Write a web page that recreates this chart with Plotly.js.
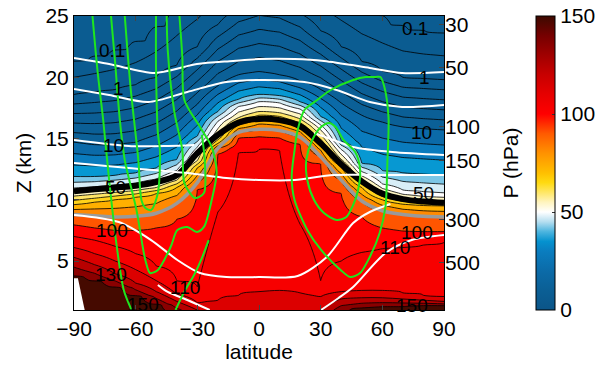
<!DOCTYPE html>
<html><head><meta charset="utf-8">
<script src="https://cdn.plot.ly/plotly-3.0.1.min.js"></script>
<style>body{margin:0;background:#fff}#chart{width:611px;height:367px}</style>
</head><body><div id="chart"></div>
<script>
// ---------- data ----------
const latitudes = [-90,-80,-70,-60,-50,-40,-30,-20,-10,0,10,20,30,40,50,60,70,80,90];
const contourLevels = [0.1,0.5,1,2,4,6,8,10,20,30,40,45,50,55,60,65,70,80,90,100,110,120,130,140,150];
// heights (km) of key contour levels per latitude column
const keyLevels = [0.1,1,10,40,50,60,70,90,100,110,120,130,150];
const h_0p1 = [21.4,21.8,22.3,23.0,24.2,25.8,27.0,28.0,28.5,28.5,28.5,28.0,27.5,26.8,25.8,25.1,24.3,23.9,23.7];
const h_1   = [18.6,18.8,19.0,19.4,20.0,21.0,22.5,24.3,25.6,26.2,26.0,25.2,23.8,22.5,21.3,20.5,20.0,19.9,19.8];
const h_10  = [14.7,14.5,14.5,14.7,15.3,16.3,17.8,19.3,20.2,20.45,20.2,19.7,19.0,17.9,16.9,16.35,15.95,15.8,15.7];
const h_40  = [11.9,11.9,12.0,12.2,12.6,13.3,15.2,17.2,18.2,18.6,18.5,18.0,16.8,14.8,13.0,12.4,12.2,12.1,12.0];
const h_50  = [10.95,11.05,11.2,11.35,11.7,12.4,14.3,16.4,17.6,18.0,17.9,17.4,16.1,14.1,12.3,11.3,10.8,10.65,10.55];
const h_60  = [10.3,10.45,10.6,10.75,11.0,11.6,13.2,15.2,16.7,17.2,17.1,16.6,15.3,13.3,11.6,10.55,10.1,9.9,9.85];
const h_70  = [9.6,9.8,10.0,10.2,10.5,11.0,12.6,14.6,16.1,16.6,16.5,16.0,14.6,12.7,11.0,10.0,9.65,9.55,9.5];
const h_90  = [8.8,8.7,8.6,8.65,8.9,9.7,11.4,14.2,15.5,15.75,15.65,15.1,13.5,11.6,9.9,9.1,8.8,8.65,8.6];
const h_100 = [7.95,7.7,7.5,7.5,7.7,8.4,10.8,13.7,15.0,15.15,15.05,14.5,12.9,10.5,8.6,7.7,7.45,7.4,7.4];
const h_110 = [7.0,6.7,6.2,5.6,4.6,3.4,2.9,9.0,13.8,14.1,14.0,8.0,3.4,5.0,5.7,6.0,6.1,6.3,6.5];
const h_120 = [6.1,5.6,5.0,4.3,3.4,2.3,1.6,1.8,2.2,2.5,2.6,2.4,2.1,2.5,2.6,2.6,2.4,2.2,2.1];
const h_130 = [5.3,4.7,3.95,3.2,2.5,1.7,1.0,0.6,0.6,0.6,0.6,0.6,0.8,1.9,2.0,2.0,1.9,1.8,1.7];
const h_150 = [3.7,3.3,2.8,2.1,1.4,0.6,0.0,-0.5,-0.5,-0.5,-0.5,-0.5,-0.2,0.8,1.1,1.2,1.25,1.3,1.3];
const keyHeights = [h_0p1,h_1,h_10,h_40,h_50,h_60,h_70,h_90,h_100,h_110,h_120,h_130,h_150];

// thick black and gray lines (km) on the latitude columns
const tropopauseZ = [10.7,10.85,11.0,11.15,11.45,12.0,13.8,15.3,16.3,16.6,16.5,16.0,14.6,12.9,11.5,10.5,10.05,9.85,9.75];
const grayLineZ   = [8.8,8.7,8.6,8.65,8.9,9.7,11.4,14.2,15.5,15.75,15.65,15.1,13.5,11.6,9.9,9.1,8.8,8.65,8.6];

// white lines
const white1Lat = [-90,-72.9,-50.6,-30.2,-12.6,0,17.3,31.6,53.9,69.6,90];
const white1Z   = [21.57,21.08,20.35,21.08,21.33,21.49,21.49,21.33,20.76,20.35,20.43];
const white2Lat = [-90,-72.9,-53.9,-34.9,-15.9,0,22.1,37.8,53.9,69.6,90];
const white2Z   = [19.04,18.55,17.98,18.8,19.61,19.78,19.61,18.96,17.98,17.57,17.73];
const white3Lat = [-90,-63.4,-44.4,-31.6,null,26.8,36.3,45.8,64.8,90];
const white3Z   = [14.88,14.39,14.39,14.47,null,15.45,14.88,14.31,13.9,13.65];
const white4Lat = [-90,-63.4,-34.9,-15.9,0,17.3,36.3,60.1,90];
const white4Z   = [13.0,12.59,12.18,11.78,11.61,11.61,12.02,12.02,12.02];
const white5Lat = [-90,-68.2,-52.5,-39.7,-28.7,-15.9,0,18.8,33.0,45.8,53.9,63.9];
const white5Z   = [8.76,8.18,6.71,5.08,4.02,3.69,3.69,3.78,5.33,8.10,9.0,9.65];
const white6Lat = [30.2,38.7,45.8,61.5,74.3,90];
const white6Z   = [1.0,1.98,2.88,5.65,6.71,7.12];
const white7Lat = [-49.2,-44.4,-34.9,-24.0];
const white7Z   = [3.04,2.47,1.82,1.0];

// green lines
const greenALat = [-81.0,-78.6,-75.8,-72.9,-69.6,-65.8,-62.0];
const greenAZ   = [25,20.59,16.51,11.61,6.71,2.63,1.0];
const greenBLat = [-72.0,-70.1,-67.7,-65.3,-59.6,-55.3,-53.0,-49.2,-43.0,-39.7,-34.9,-30.2,-26.8,-23.0,-20.6,-23.0,-28.7,-36.3,-37.3,-38.7];
const greenBZ   = [25,21.41,16.51,13.24,9.16,5.08,4.02,4.27,6.14,7.53,7.78,7.37,7.78,9.98,12.25,14.31,15.94,18.14,21.65,25];
const greenCLat = [-65.3,-62.5,-58.7,-57.2,-55.3,-52.5,-49.2,-48.2,-49.2,-50.1,-50.1];
const greenCZ   = [25,19.2,13.24,9.98,9.33,9.16,10.55,14.06,15.45,20.84,25];
const greenDLat = [-44.9,-44.4,-41.1,-37.3,-36.3,-31.1,-26.8,-26.4,-27.8];
const greenDZ   = [25,22.22,17.08,14.06,11.37,10.14,10.55,13.24,15.29];
const greenELat = [-40.6,-35.9,-31.6,-27.8,-24.5];
const greenEZ   = [1.0,2.63,3.86,5.24,6.71];
const greenFLat = [17.3,15.9,17.3,23.5,30.2,39.7,44.4,49.2,53.9,58.7,61.5,62.5,63.0,61.0,59.1,56.8,52.0,45.8,34.9,28.3,22.1,18.8,17.3];
const greenFZ   = [14.06,11.86,9.98,7.53,5.90,4.27,3.69,4.02,5.33,7.29,9.41,13.24,16.76,19.2,20.02,20.02,20.02,19.78,18.96,18.14,17.33,15.69,14.06];
const greenGLat = [25.9,30.2,34.0,37.3,41.1,46.8,49.2,48.2,45.8,42.5,37.8,31.6,26.8,23.5,23.0,25.9];
const greenGZ   = [14.88,15.94,16.27,15.94,14.88,13.9,12.43,10.8,9.57,8.59,8.35,8.92,9.98,11.61,13.24,14.88];

// missing-data patch (bottom left)
const patchLat = [-90,-88.1,-84.8,-90];
const patchZ   = [3.6,3.6,1.0,1.0];

// contour labels
const labelText = ['0.1','1','10','50','100','130','110','150','0.1','1','10','50','100','110','150'];
const labelLat  = [-71.5,-68.2,-71.0,-69.6,-71.5,-72.0,-35.9,-56.3,75.7,80.5,79.1,80.0,76.7,66.3,74.3];
const labelZ    = [22.22,19.12,14.39,10.96,7.53,3.86,2.80,1.49,24.02,19.94,15.53,10.55,7.29,6.14,1.33];

// axis ticks
const latTicks = [-90,-60,-30,0,30,60,90];
const zTicks = [5,10,15,20,25];
const pressureTicks = [30,50,100,150,300,500];
const colorbarTicks = [0,50,100,150];

// ---------- styling ----------
const bandColors = ['#0b5c91','#0b5c91','#0b5d92','#0b5d93','#0b5e94','#0b5e95','#0b5f96','#0b6097',
  '#0b6aa8','#0a7bbd','#0798d2','#7cc6e6','#d8eef7','#ffffff','#fff6c2','#ffe566','#ffd21a','#ffb000',
  '#ff8a00','#ff5500','#ff0000','#f70000','#dc0000','#b80000','#8a0000','#450a00'];
const cbStops = [[0,'#0b5588'],[10,'#0b5f95'],[20,'#0b6ba8'],[30,'#0a7dbf'],[35,'#0592cf'],[40,'#4db5df'],
  [45,'#b5def0'],[50,'#ffffff'],[55,'#fff4bf'],[60,'#ffe766'],[65,'#ffda10'],[70,'#ffbf00'],[80,'#ff9200'],
  [90,'#ff5a00'],[100,'#ff0000'],[110,'#e60000'],[120,'#c80000'],[130,'#a00000'],[140,'#760000'],[150,'#3c0a00']];

// ---------- build field (level index) ----------
const keyIdx = keyLevels.map(v => contourLevels.indexOf(v));
const heights = [];
for (let i = 0; i <= 260; i++) heights.push(+(i * 0.1).toFixed(2));
function indexAt(c, h) {
  const hs = keyHeights.map(r => r[c]);
  if (h >= hs[0]) return -0.5;
  if (h <= hs[hs.length - 1]) return contourLevels.length - 0.5;
  for (let k = 0; k < hs.length - 1; k++) {
    if (h <= hs[k] && h >= hs[k + 1]) {
      const t = (hs[k] - h) / (hs[k] - hs[k + 1]);
      return keyIdx[k] + t * (keyIdx[k + 1] - keyIdx[k]);
    }
  }
  return 0;
}
const zGrid = heights.map(h => latitudes.map((lat, c) => indexAt(c, h)));

const font = 'Arial, "Liberation Sans", sans-serif';
const traces = [];
traces.push({
  type: 'contour', x: latitudes, y: heights, z: zGrid, autocontour: false,
  contours: {start: 0, end: contourLevels.length - 1, size: 1, coloring: 'fill', showlines: true},
  line: {color: '#000', width: 0.8, smoothing: 1},
  colorscale: bandColors.map((c, j) => [j / (bandColors.length - 1), c]),
  showscale: false, hoverinfo: 'skip'
});
traces.push({type: 'scatter', x: patchLat, y: patchZ, fill: 'toself', fillcolor: '#fff', mode: 'lines',
  line: {width: 0}, hoverinfo: 'skip', showlegend: false});
traces.push({type: 'scatter', x: latitudes, y: grayLineZ, mode: 'lines',
  line: {color: '#9a9a9a', width: 3.5, shape: 'spline', smoothing: 1}, hoverinfo: 'skip'});
traces.push({type: 'scatter', x: latitudes, y: tropopauseZ, mode: 'lines',
  line: {color: '#000', width: 6, shape: 'spline', smoothing: 1}, hoverinfo: 'skip'});
[[white1Lat,white1Z],[white2Lat,white2Z],[white3Lat,white3Z],[white4Lat,white4Z],[white5Lat,white5Z],[white6Lat,white6Z],[white7Lat,white7Z]]
  .forEach(([x, y]) => traces.push({type: 'scatter', x, y, mode: 'lines', connectgaps: false,
    line: {color: '#fff', width: 2, shape: 'spline', smoothing: 0.8}, hoverinfo: 'skip'}));
[[greenALat,greenAZ],[greenBLat,greenBZ],[greenCLat,greenCZ],[greenDLat,greenDZ],[greenELat,greenEZ],[greenFLat,greenFZ],[greenGLat,greenGZ]]
  .forEach(([x, y]) => traces.push({type: 'scatter', x, y, mode: 'lines',
    line: {color: '#1ee61e', width: 2, shape: 'spline', smoothing: 0.8}, hoverinfo: 'skip'}));
// colorbar holder
traces.push({type: 'scatter', x: [null], y: [null], yaxis: 'y2', mode: 'markers', hoverinfo: 'skip',
  marker: {color: [0], cmin: 0, cmax: 150, showscale: true,
    colorscale: cbStops.map(s => [s[0] / 150, s[1]]),
    colorbar: {x: 1.248, xanchor: 'left', y: 0.5, yanchor: 'middle', len: 1, lenmode: 'fraction',
      thickness: 19, thicknessmode: 'pixels', xpad: 0, ypad: 0, outlinewidth: 1, outlinecolor: '#000',
      tickvals: colorbarTicks, ticks: 'inside', ticklen: 3, tickcolor: '#333',
      tickfont: {family: font, size: 21, color: '#000'}}}});

const H = 6.9, P0 = 1013.25;
const pressureTickZ = pressureTicks.map(p => H * Math.log(P0 / p));

const layout = {
  width: 611, height: 367, margin: {l: 74, r: 158, t: 16, b: 57},
  paper_bgcolor: '#fff', plot_bgcolor: '#fff', showlegend: false,
  font: {family: font, size: 21, color: '#000'},
  xaxis: {range: [-90, 90], tickvals: latTicks, ticks: 'inside', ticklen: 5, mirror: 'ticks',
    showline: true, linecolor: '#000', linewidth: 1, showgrid: false, zeroline: false,
    tickfont: {size: 21}, title: {text: 'latitude', font: {size: 21}, standoff: 2}},
  yaxis: {range: [1, 25], tickvals: zTicks, ticks: 'inside', ticklen: 5, mirror: true,
    showline: true, linecolor: '#000', linewidth: 1, showgrid: false, zeroline: false,
    tickfont: {size: 21}, title: {text: 'Z (km)', font: {size: 21}, standoff: 8}},
  yaxis2: {overlaying: 'y', side: 'right', range: [1, 25], tickvals: pressureTickZ,
    ticktext: pressureTicks.map(String), ticks: 'inside', ticklen: 5, showline: false,
    showgrid: false, zeroline: false, tickfont: {size: 21},
    title: {text: 'P (hPa)', font: {size: 21}, standoff: 24}},
  annotations: labelText.map((t, i) => ({x: labelLat[i], y: labelZ[i], text: t, showarrow: false,
    font: {family: font, size: 19, color: '#000'}, xanchor: 'center', yanchor: 'middle'}))
};
Plotly.newPlot('chart', traces, layout, {staticPlot: true, displayModeBar: false});
</script></body></html>
